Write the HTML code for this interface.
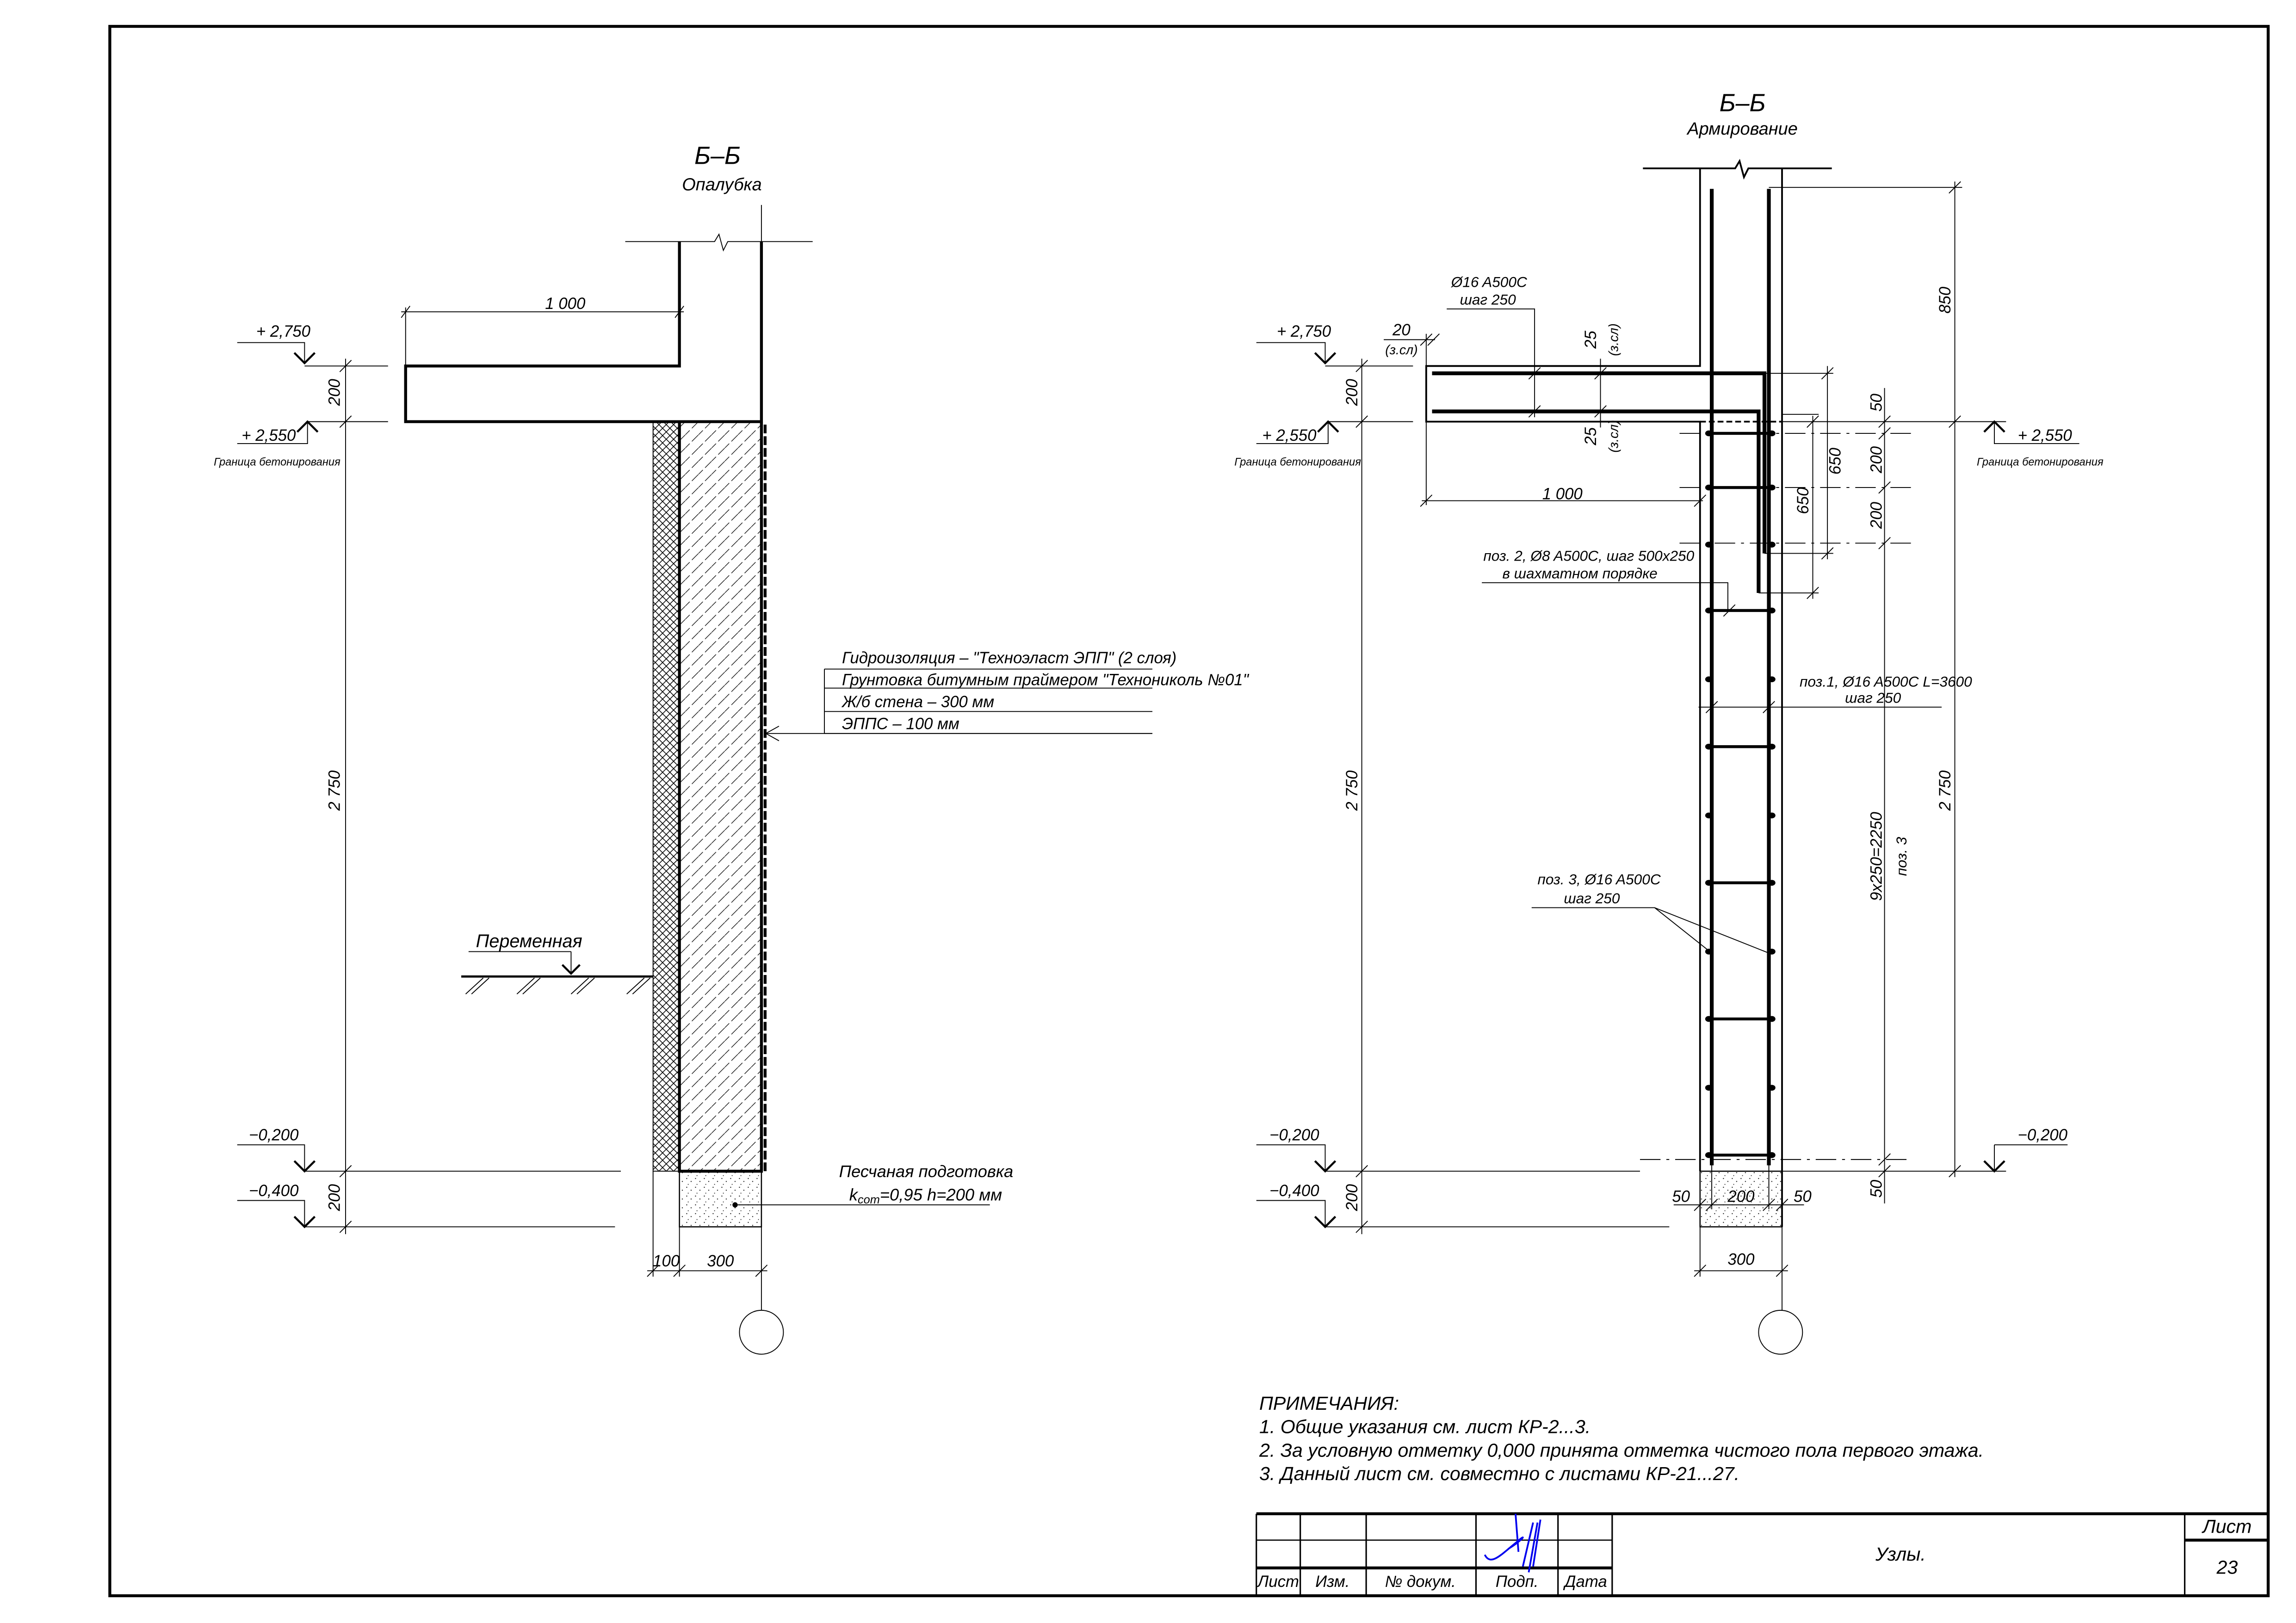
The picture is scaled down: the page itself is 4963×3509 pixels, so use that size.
<!DOCTYPE html>
<html><head><meta charset="utf-8"><style>
html,body{margin:0;padding:0;background:#fff;}
svg{display:block;}
text{font-family:"Liberation Sans Narrow","Liberation Sans",sans-serif;font-style:italic;fill:#000;}
</style></head><body>
<svg width="4963" height="3509" viewBox="0 0 1568 1108.6" xmlns="http://www.w3.org/2000/svg">
<defs>
<pattern id="xh" width="5" height="5" patternUnits="userSpaceOnUse">
<path d="M0 0L5 5M5 0L0 5" stroke="#000" stroke-width="0.5"/>
</pattern>
<pattern id="conc" width="9" height="9" patternUnits="userSpaceOnUse">
<path d="M0 9L3 6M4.5 4.5L9 0" stroke="#000" stroke-width="0.4"/>
</pattern>
<pattern id="sand" width="6" height="6" patternUnits="userSpaceOnUse">
<circle cx="1" cy="1" r="0.35" fill="#000"/><circle cx="4" cy="3" r="0.35" fill="#000"/><circle cx="2" cy="5" r="0.3" fill="#000"/>
</pattern>
</defs>
<rect width="1568" height="1109" fill="#fff"/>
<rect x="75" y="18" width="1474" height="1072" fill="none" stroke="#000" stroke-width="2"/>

<g stroke="#000" fill="none" stroke-width="0.6">
<path d="M427 165H488L491 160L494 171L497 165H555"/>
<line x1="520" y1="140" x2="520" y2="165"/>
</g>
<text x="490" y="112" font-size="17" text-anchor="middle">Б–Б</text>
<text x="493" y="130" font-size="12" text-anchor="middle">Опалубка</text>

<rect x="446" y="288" width="18" height="512" fill="url(#xh)" stroke="#000" stroke-width="0.6"/>
<rect x="464" y="288" width="56" height="512" fill="url(#conc)"/>
<rect x="464" y="800" width="56" height="38" fill="url(#sand)" stroke="#000" stroke-width="0.8"/>
<g stroke="#000" fill="none" stroke-width="2">
<path d="M464 165V250H277V288H520V165"/>
<path d="M464 288V800H520V288"/>
</g>
<line x1="522.5" y1="290" x2="522.5" y2="800" stroke="#000" stroke-width="2" stroke-dasharray="6 2"/>

<g stroke="#000" fill="none" stroke-width="0.6">
<line x1="277" y1="210" x2="277" y2="250"/>
<line x1="274" y1="213" x2="467" y2="213"/>
<path d="M274 217L280 209M461 217L467 209"/>
<path d="M162 234H208V248"/>
<line x1="208" y1="250" x2="265" y2="250"/>
<path d="M162 303H210V288"/>
<line x1="210" y1="288" x2="265" y2="288"/>
<path d="M162 782H208V800"/>
<path d="M162 820H208V838"/>
<line x1="208" y1="800" x2="424" y2="800"/>
<line x1="208" y1="838" x2="420" y2="838"/>
<line x1="236" y1="245" x2="236" y2="843"/>
<path d="M232 254L240 246M232 292L240 284M232 804L240 796M232 842L240 834"/>
<path d="M446 800V872M464 838V872M520 838V895"/>
<line x1="442" y1="868" x2="524" y2="868"/>
<path d="M442 872L450 864M460 872L468 864M516 872L524 864"/>
<circle cx="520" cy="910" r="15"/>
<path d="M320 650H390M390 650V665"/>
<line x1="315" y1="667" x2="446" y2="667" stroke-width="1.5"/>
<path d="M318 679L330 668M353 679L365 668M390 679L402 668M428 679L440 668M322 679L334 668M357 679L369 668M394 679L406 668M432 679L444 668"/>
<path d="M563 457H787M563 470H787M563 486H787M563 501H787M563 457V501"/>
<line x1="787" y1="501" x2="523" y2="501"/>
<path d="M532 496L523 501L532 506"/>
<line x1="502" y1="823" x2="676" y2="823"/>
</g>
<g stroke="#000" fill="none" stroke-width="1.4">
<path d="M201 241L208 248L215 241M203 295L210 288L217 295M201 793L208 800L215 793M201 831L208 838L215 831M384 659L390 665L396 659"/>
<path d="M898 241L905 248L912 241M900 295L907 288L914 295M898 793L905 800L912 793M898 831L905 838L912 831"/>
<path d="M1355 295L1362 288L1369 295M1355 793L1362 800L1369 793"/>
</g>
<circle cx="502" cy="823" r="1.8" fill="#000"/>
<g font-size="11" text-anchor="middle">
<text x="386" y="211">1 000</text>
<text transform="translate(232 268) rotate(-90)">200</text>
<text transform="translate(232 540) rotate(-90)">2 750</text>
<text transform="translate(232 818) rotate(-90)">200</text>
<text x="455" y="865">100</text>
<text x="492" y="865">300</text>
</g>
<g font-size="11">
<text x="175" y="230">+ 2,750</text>
<text x="165" y="301">+ 2,550</text>
<text x="146" y="318" font-size="7.5">Граница бетонирования</text>
<text x="170" y="779">−0,200</text>
<text x="170" y="817">−0,400</text>
<text x="325" y="647" font-size="12.5">Переменная</text>
<text x="575" y="453" font-size="11">Гидроизоляция – "Техноэласт ЭПП" (2 слоя)</text>
<text x="575" y="468" font-size="11">Грунтовка битумным праймером "Технониколь №01"</text>
<text x="575" y="483" font-size="11">Ж/б стена – 300 мм</text>
<text x="575" y="498" font-size="11">ЭППС – 100 мм</text>
<text x="573" y="804" font-size="11.5">Песчаная подготовка</text>
<text x="580" y="820" font-size="11.5">k<tspan font-size="8" dy="2">com</tspan><tspan dy="-2">=0,95 h=200 мм</tspan></text>
</g>

<text x="1190" y="76" font-size="17" text-anchor="middle">Б–Б</text>
<text x="1190" y="92" font-size="12" text-anchor="middle">Армирование</text>
<rect x="1161" y="800" width="56" height="38" fill="url(#sand)" stroke="#000" stroke-width="0.8"/>
<g stroke="#000" fill="none" stroke-width="1.2">
<path d="M1122 115H1185L1188 110L1191 121L1194 115H1251"/>
<path d="M1161 115V250H974V288H1161V800"/>
<path d="M1217 115V838"/>
</g>
<line x1="1161" y1="288" x2="1217" y2="288" stroke="#000" stroke-width="1.2" stroke-dasharray="4 2"/>
<g stroke="#000" fill="none" stroke-width="2.6">
<path d="M1169 129V796"/>
<path d="M1208 129V796"/>
<path d="M978 255H1205V378"/>
<path d="M978 281H1201V405"/>
</g>
<g stroke="#000" stroke-width="2">
<path d="M1166 296H1211M1166 333H1211M1166 417H1211M1166 510H1211M1166 603H1211M1166 696H1211M1166 789H1211"/>
</g>
<g fill="#000">
<ellipse cx="1167" cy="296" rx="2.5" ry="2"/><ellipse cx="1210" cy="296" rx="2.5" ry="2"/>
<ellipse cx="1167" cy="333" rx="2.5" ry="2"/><ellipse cx="1210" cy="333" rx="2.5" ry="2"/>
<ellipse cx="1167" cy="372" rx="2.5" ry="2"/><ellipse cx="1210" cy="372" rx="2.5" ry="2"/>
<ellipse cx="1167" cy="417" rx="2.5" ry="2"/><ellipse cx="1210" cy="417" rx="2.5" ry="2"/>
<ellipse cx="1167" cy="464" rx="2.5" ry="2"/><ellipse cx="1210" cy="464" rx="2.5" ry="2"/>
<ellipse cx="1167" cy="510" rx="2.5" ry="2"/><ellipse cx="1210" cy="510" rx="2.5" ry="2"/>
<ellipse cx="1167" cy="557" rx="2.5" ry="2"/><ellipse cx="1210" cy="557" rx="2.5" ry="2"/>
<ellipse cx="1167" cy="603" rx="2.5" ry="2"/><ellipse cx="1210" cy="603" rx="2.5" ry="2"/>
<ellipse cx="1167" cy="650" rx="2.5" ry="2"/><ellipse cx="1210" cy="650" rx="2.5" ry="2"/>
<ellipse cx="1167" cy="696" rx="2.5" ry="2"/><ellipse cx="1210" cy="696" rx="2.5" ry="2"/>
<ellipse cx="1167" cy="743" rx="2.5" ry="2"/><ellipse cx="1210" cy="743" rx="2.5" ry="2"/>
<ellipse cx="1167" cy="789" rx="2.5" ry="2"/><ellipse cx="1210" cy="789" rx="2.5" ry="2"/>
</g>
<g stroke="#000" fill="none" stroke-width="0.6">
<path d="M1147 296H1305M1147 333H1305M1147 371H1305M1120 792H1305" stroke-dasharray="14 4 2 4"/>
<path d="M1169 796V826M1208 796V826"/>
<path d="M858 234H905V248"/>
<path d="M858 303H907V288"/>
<path d="M905 250H965M907 288H965"/>
<path d="M858 782H905V800"/>
<path d="M858 820H905V838"/>
<path d="M905 800H1120M905 838H1140"/>
<line x1="930" y1="245" x2="930" y2="843"/>
<path d="M926 254L934 246M926 292L934 284M926 804L934 796M926 842L934 834"/>
<path d="M1217 288H1370M1362 288V303H1420"/>
<path d="M1217 800H1370M1362 782H1412M1362 782V800"/>
<path d="M1208 128H1340"/>
<line x1="1335" y1="124" x2="1335" y2="804"/>
<path d="M1331 132L1339 124M1331 292L1339 284M1331 804L1339 796"/>
<line x1="1287" y1="265" x2="1287" y2="822"/>
<path d="M1283 292L1291 284M1283 300L1291 292M1283 337L1291 329M1283 375L1291 367M1283 796L1291 788M1283 804L1291 796"/>
<path d="M1205 255H1252M1248 250V382M1244 259L1252 251M1244 382L1252 374M1205 378H1252"/>
<path d="M1201 405H1242M1238 284V409M1234 292L1242 284M1234 409L1242 401M1217 283H1242"/>
<path d="M945 232H980M974 228V250M970 236L978 228M975 236L983 228"/>
<path d="M988 211H1048V285M1044 259L1052 251M1044 285L1052 277"/>
<path d="M1093 245V292M1089 259L1097 251M1089 285L1097 277"/>
<path d="M974 288V345M971 342H1163M970 346L978 338M1157 346L1165 338"/>
<path d="M1012 398H1180V417M1177 421L1185 413"/>
<path d="M1160 483H1326M1165 487L1173 479M1204 487L1212 479"/>
<path d="M1046 620H1130L1169 651M1130 620L1208 651"/>
<path d="M1143 823H1232M1157 827L1165 819M1165 827L1173 819M1204 827L1212 819M1213 827L1221 819"/>
<path d="M1161 838V872M1217 838V895M1157 868H1221M1157 872L1165 864M1213 872L1221 864"/>
<circle cx="1216" cy="910" r="15"/>
</g>
<g font-size="11">
<text x="872" y="230">+ 2,750</text>
<text x="862" y="301">+ 2,550</text>
<text x="843" y="318" font-size="7.5">Граница бетонирования</text>
<text x="1378" y="301">+ 2,550</text>
<text x="1350" y="318" font-size="7.5">Граница бетонирования</text>
<text x="867" y="779">−0,200</text>
<text x="867" y="817">−0,400</text>
<text x="1378" y="779">−0,200</text>
<text x="951" y="229">20</text>
<text x="946" y="242" font-size="9">(з.сл)</text>
<text x="991" y="196" font-size="10">Ø16 A500C</text>
<text x="997" y="208" font-size="10">шаг 250</text>
<text x="1013" y="383" font-size="10">поз. 2, Ø8 A500C, шаг 500х250</text>
<text x="1026" y="395" font-size="10">в шахматном порядке</text>
<text x="1229" y="469" font-size="10">поз.1, Ø16 A500C L=3600</text>
<text x="1260" y="480" font-size="10">шаг 250</text>
<text x="1050" y="604" font-size="10">поз. 3, Ø16 A500C</text>
<text x="1068" y="617" font-size="10">шаг 250</text>
</g>
<g font-size="11" text-anchor="middle">
<text transform="translate(927 268) rotate(-90)">200</text>
<text transform="translate(927 540) rotate(-90)">2 750</text>
<text transform="translate(927 818) rotate(-90)">200</text>
<text transform="translate(1090 232) rotate(-90)">25</text>
<text transform="translate(1105 232) rotate(-90)" font-size="9">(з.сл)</text>
<text transform="translate(1090 298) rotate(-90)">25</text>
<text transform="translate(1105 298) rotate(-90)" font-size="9">(з.сл)</text>
<text x="1067" y="341">1 000</text>
<text transform="translate(1257 315) rotate(-90)">650</text>
<text transform="translate(1235 342) rotate(-90)">650</text>
<text transform="translate(1285 275) rotate(-90)">50</text>
<text transform="translate(1285 314) rotate(-90)">200</text>
<text transform="translate(1285 352) rotate(-90)">200</text>
<text transform="translate(1285 585) rotate(-90)">9х250=2250</text>
<text transform="translate(1302 585) rotate(-90)" font-size="10">поз. 3</text>
<text transform="translate(1285 812) rotate(-90)">50</text>
<text transform="translate(1332 205) rotate(-90)">850</text>
<text transform="translate(1332 540) rotate(-90)">2 750</text>
<text x="1148" y="821">50</text>
<text x="1189" y="821">200</text>
<text x="1231" y="821">50</text>
<text x="1189" y="864">300</text>
</g>

<g font-size="13">
<text x="860" y="963">ПРИМЕЧАНИЯ:</text>
<text x="860" y="979">1. Общие указания см. лист КР-2...3.</text>
<text x="860" y="995">2. За условную отметку 0,000 принята отметка чистого пола первого этажа.</text>
<text x="860" y="1011">3. Данный лист см. совместно с листами КР-21...27.</text>
</g>

<g stroke="#000" fill="none">
<path d="M858 1034H1549" stroke-width="2"/>
<path d="M858 1071H1101" stroke-width="2"/>
<path d="M858 1052H1101" stroke-width="0.8"/>
<path d="M1492 1052H1549" stroke-width="2"/>
<path d="M858 1034V1090M888 1034V1090M933 1034V1090M1008 1034V1090M1064 1034V1090M1101 1034V1090M1492 1034V1090" stroke-width="1"/>
</g>
<path d="M1035 1034L1037 1060M1030 1058C1040 1052 1044 1046 1035 1054C1025 1062 1018 1070 1014 1062M1040 1070L1047 1040M1044 1074L1050 1040M1047 1070L1052 1038" stroke="#0000ee" stroke-width="1.2" fill="none"/>
<g font-size="11" text-anchor="middle">
<text x="873" y="1084">Лист</text>
<text x="910" y="1084">Изм.</text>
<text x="970" y="1084">№ докум.</text>
<text x="1036" y="1084">Подп.</text>
<text x="1083" y="1084">Дата</text>
<text x="1298" y="1066" font-size="13">Узлы.</text>
<text x="1521" y="1047" font-size="13">Лист</text>
<text x="1521" y="1075" font-size="13">23</text>
</g>
</svg>
</body></html>
